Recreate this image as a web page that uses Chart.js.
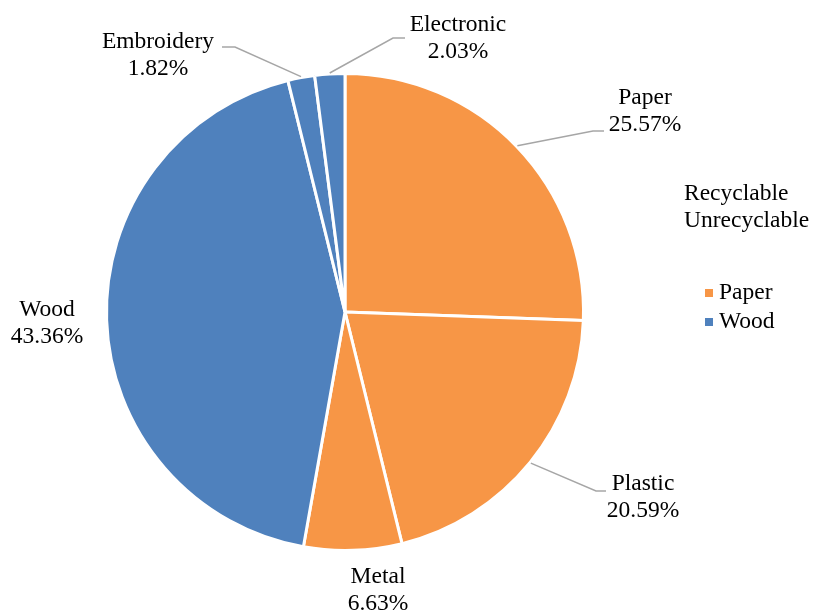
<!DOCTYPE html>
<html>
<head>
<meta charset="utf-8">
<script src="https://cdn.jsdelivr.net/npm/chart.js@4"></script>
<style>
  html, body { margin: 0; padding: 0; background: #fff; }
</style>
</head>
<body>
<canvas id="chart" width="813" height="614"></canvas>
<script>
const categories = ["Paper", "Plastic", "Metal", "Wood", "Embroidery", "Electronic"];
const shares = [25.57, 20.59, 6.63, 43.36, 1.82, 2.03];
const groupOf = ["Recyclable", "Recyclable", "Recyclable", "Unrecyclable", "Unrecyclable", "Unrecyclable"];
const groupNames = ["Recyclable", "Unrecyclable"];
const legendNames = ["Paper", "Wood"];

const GROUP_COLORS = { Recyclable: "#f79646", Unrecyclable: "#4f81bd" };
const FONT = '23.5px "Liberation Serif"';
const LINE_H = 27;

// where each data label sits (text centre of first line) and its leader elbow
const labelLayout = {
  Paper:      { x: 645, y: 98,  elbow: [593, 131], end: [604, 131] },
  Plastic:    { x: 643, y: 484, elbow: [596, 491], end: [606, 491] },
  Metal:      { x: 378, y: 577 },
  Wood:       { x: 47,  y: 310 },
  Embroidery: { x: 158, y: 42,  elbow: [235, 47], end: [222, 47] },
  Electronic: { x: 458, y: 25,  elbow: [393, 38], end: [405, 38] }
};

const labelsPlugin = {
  id: "pieLabels",
  afterDraw(chart) {
    const ctx = chart.ctx;
    const arcs = chart.getDatasetMeta(0).data;
    ctx.save();
    ctx.font = FONT;
    arcs.forEach((arc, i) => {
      const name = categories[i];
      const pos = labelLayout[name];
      if (pos.elbow) {
        const mid = (arc.startAngle + arc.endAngle) / 2;
        const r = arc.outerRadius + 1;
        ctx.beginPath();
        ctx.strokeStyle = "#a6a6a6";
        ctx.lineWidth = 1.5;
        ctx.moveTo(arc.x + Math.cos(mid) * r, arc.y + Math.sin(mid) * r);
        ctx.lineTo(pos.elbow[0], pos.elbow[1]);
        ctx.lineTo(pos.end[0], pos.end[1]);
        ctx.stroke();
      }
      ctx.fillStyle = "#000";
      ctx.textAlign = "center";
      ctx.textBaseline = "middle";
      ctx.fillText(name, pos.x, pos.y);
      ctx.fillText(shares[i].toFixed(2) + "%", pos.x, pos.y + LINE_H);
    });

    // legend: group titles then two colour keys
    ctx.textAlign = "left";
    groupNames.forEach((g, k) => ctx.fillText(g, 684, 193 + k * LINE_H + 1));
    legendNames.forEach((n, k) => {
      const i = categories.indexOf(n);
      const y = 293 + k * 29;
      ctx.fillStyle = GROUP_COLORS[groupOf[i]];
      ctx.fillRect(705, y - 4, 8, 8);
      ctx.fillStyle = "#000";
      ctx.fillText(n, 719, y);
    });
    ctx.restore();
  }
};

new Chart(document.getElementById("chart"), {
  type: "pie",
  data: {
    labels: categories,
    datasets: [{
      data: shares,
      backgroundColor: groupOf.map(g => GROUP_COLORS[g]),
      borderColor: "#ffffff",
      borderWidth: 3
    }]
  },
  options: {
    responsive: false,
    animation: false,
    layout: { padding: { top: 72, bottom: 62, left: 105, right: 228 } },
    plugins: { legend: { display: false }, tooltip: { enabled: false } }
  },
  plugins: [labelsPlugin]
});
</script>
</body>
</html>
